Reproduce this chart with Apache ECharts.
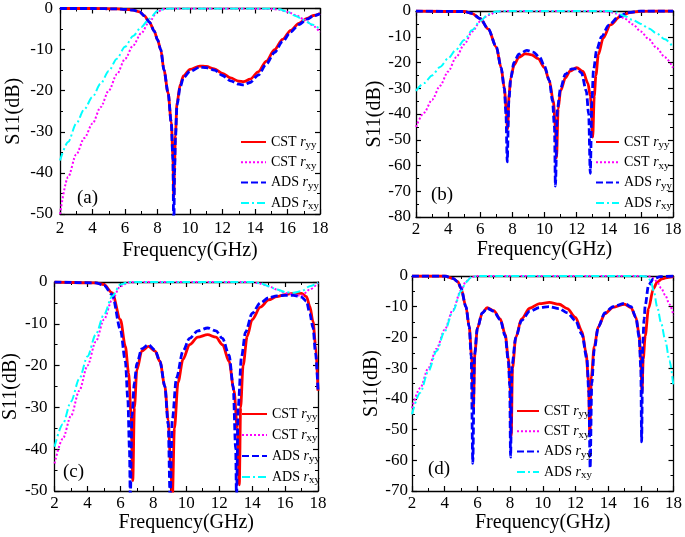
<!DOCTYPE html>
<html><head><meta charset="utf-8">
<script src="https://cdn.jsdelivr.net/npm/echarts@6/dist/echarts.min.js"></script>
<style>html,body{margin:0;padding:0;background:#fff}#c{width:685px;height:537px}</style>
</head><body><div id="c"></div><script>
// ---------- Panel (a) ----------
const aFreqXY = [2,2.5,3,3.5,4,4.5,5,5.5,6,6.5,7,7.5,8,8.5,9,11,13,15,15.5,16,16.5,17,17.5,18];
const aCstXY  = [-50,-41,-35.5,-31.5,-28,-24,-20,-16,-12.3,-9,-6,-3.2,-0.7,-0.05,0,0,0,-0.1,-0.3,-0.8,-1.6,-2.6,-4,-5.8];
const aAdsXY  = [-37,-32.5,-28,-24.5,-21.5,-18.3,-15.2,-12.2,-9.3,-6.7,-4.5,-2.5,-0.6,-0.05,0,0,0,0,-0.2,-0.8,-1.8,-2.8,-3.9,-5];
const aFreqYY = [2,4,5.5,6,6.5,6.9,7.2,7.5,7.8,8,8.2,8.4,8.65,8.85,8.95,9.0,9.05,9.1,9.2,9.4,9.6,10,10.6,11,11.5,12,12.5,13,13.3,13.7,14.2,14.7,15.2,15.7,16.2,16.7,17.2,17.6,18];
const aCstYY  = [0,0,-0.1,-0.2,-0.4,-0.8,-1.8,-3.3,-5.5,-7.6,-10,-15,-20.5,-27.7,-36,-46,-38,-31,-23,-18.5,-16.4,-14.8,-14,-14.1,-14.7,-15.8,-16.9,-17.7,-17.8,-17.2,-15.4,-12.8,-10,-7.5,-5.3,-3.6,-2.4,-1.7,-1.2];
const aAdsYY  = [0,0,-0.1,-0.2,-0.4,-0.8,-1.8,-3.3,-5.5,-7.6,-10,-15,-20.5,-28,-37,-55,-40,-32,-23.5,-19,-16.8,-15.3,-14.3,-14.4,-15,-16.3,-17.6,-18.4,-18.6,-18,-16.2,-13.5,-10.7,-8,-5.7,-3.9,-2.6,-1.8,-1.3];
// ---------- Panel (b) ----------
const bFreqXY = [2,2.5,3,3.5,4,4.5,5,5.5,6,6.5,7,7.5,8,10,12,13,13.5,14,14.5,15,15.5,16,16.5,17,17.5,18];
const bCstXY  = [-45,-39.5,-34.5,-29,-23.5,-18,-13,-8,-4,-1.6,-0.4,0,0,0,0,0,0,-0.3,-1,-3,-5.2,-8,-11,-14.5,-18,-22];
const bAdsXY  = [-31,-28,-25,-21.7,-18.4,-15,-11.3,-7.4,-3.8,-1.3,-0.2,0,0,0,0,0,0,0,-0.6,-2,-3.5,-5,-6.8,-8.8,-11,-14];
const bFreqCst = [2,5,5.5,6,6.5,7,7.3,7.5,7.62,7.7,7.8,7.9,8.1,8.4,8.8,9.2,9.6,10,10.3,10.55,10.68,10.75,10.85,11,11.3,11.6,12,12.4,12.7,12.85,12.95,13.0,13.1,13.2,13.35,13.65,14.1,14.7,15.3,16,17,18];
const bCstYY   = [0,-0.2,-1,-3,-7,-14,-22,-30,-38,-46,-32,-26,-21,-18,-16.6,-17,-18.5,-22,-27,-35,-45,-57,-38,-31,-26,-23.3,-22,-23.5,-28,-33,-40,-49,-33,-25,-17,-10.6,-5.4,-2.2,-0.6,-0.1,0,0];
const bFreqAds = [2,5,5.5,6,6.5,7,7.3,7.5,7.6,7.68,7.78,7.9,8.1,8.4,8.9,9.3,9.7,10,10.3,10.5,10.62,10.68,10.8,11,11.3,11.7,12,12.3,12.6,12.75,12.85,12.95,13.05,13.25,13.55,14,14.6,15.2,16,18];
const bAdsYY   = [0,-0.2,-1,-3,-7,-14,-22,-30,-40,-58.6,-35,-26,-20,-16.8,-15.3,-16,-18,-21.5,-27,-35,-45,-68,-38,-30,-24.5,-22.5,-22.5,-24,-31,-40,-63,-35,-23,-15,-10,-5.5,-2.3,-0.6,0,0];
// ---------- Panel (c) ----------
const cFreqXY = [2,2.5,3,3.5,4,4.5,5,5.5,6,6.5,7,10,14,14.5,15,15.5,16,16.5,17,17.5,18];
const cCstXY  = [-43.4,-37.5,-32,-26,-20,-14.3,-9,-4.2,-1,-0.1,0,0,0,-0.4,-1,-1.8,-2.6,-3,-3.3,-1.8,-0.2];
const cAdsXY  = [-39.4,-34,-28.6,-23.2,-17.8,-12.6,-7.8,-3.4,-0.6,0,0,0,0,-0.3,-1,-1.8,-2.4,-2.6,-2.2,-1,-0.2];
const cFreqCst = [2,4.5,5,5.5,6,6.3,6.5,6.65,6.75,6.85,7.0,7.3,7.7,8.1,8.4,8.7,8.9,9.07,9.15,9.28,9.5,9.8,10.2,10.7,11.3,11.8,12.2,12.6,12.9,13.1,13.22,13.3,13.45,13.7,14,14.5,15,15.5,16,16.5,17,17.3,17.5,17.7,17.85,18];
const cCstYY   = [0,-0.2,-0.6,-2.6,-9,-15.4,-21.8,-32,-47.5,-30,-21,-16.5,-15.4,-16.5,-19,-25,-33,-45,-52,-35,-24,-18.5,-15,-13.2,-12.6,-13.2,-15,-19,-26,-35,-48.5,-30,-20,-13,-9,-6,-4.3,-3.5,-3,-2.7,-2.7,-3.5,-5.8,-9.5,-15,-26];
const cFreqAds = [2,4.5,5,5.5,6,6.3,6.45,6.55,6.6,6.7,6.85,7.0,7.3,7.7,8.1,8.4,8.7,8.9,9.02,9.15,9.4,9.8,10.2,10.7,11.3,11.8,12.2,12.6,12.85,13.0,13.05,13.15,13.35,13.6,14,14.5,15,15.5,16,16.5,17,17.3,17.5,17.7,17.85,18];
const cAdsYY   = [0,-0.2,-0.8,-3,-11.4,-19,-28,-40,-52,-32,-24,-19.5,-16,-15,-16.3,-19,-25,-34,-52,-33,-23,-16.5,-13.5,-11.7,-11,-11.7,-13.5,-17.5,-25,-40,-52,-30,-18,-12,-7.5,-5,-3.8,-3.3,-3.2,-3.2,-3.6,-4.6,-7.5,-11,-17,-26];
// ---------- Panel (d) ----------
const dFreqXY = [2,2.5,3,3.5,4,4.5,5,5.3,5.6,6,10,16,16.4,16.6,16.8,17,17.25,17.5,17.75,18];
const dCstXY  = [-43,-36.5,-30,-23.7,-17.5,-11,-4.6,-1.8,-0.4,0,0,0,0,-0.2,-0.8,-2,-4,-6.3,-9.2,-12.8];
const dAdsXY  = [-45,-38,-31,-24.5,-18,-11.5,-5,-2,-0.5,0,0,0,-0.2,-1.5,-5,-10,-15.5,-21,-27.5,-36];
const dFreqCst = [2,4,4.5,4.8,5,5.3,5.5,5.65,5.75,5.85,6.0,6.3,6.6,7,7.4,7.7,7.9,8.0,8.07,8.15,8.35,8.7,9.2,9.8,10.4,11,11.5,12,12.4,12.65,12.8,12.88,12.97,13.15,13.4,13.8,14.3,15,15.4,15.7,15.9,16.0,16.07,16.15,16.27,16.47,16.77,17.0,17.3,17.7,18];
const dCstYY   = [0,0,-0.8,-1.8,-4,-10,-16.5,-26,-43,-25,-17,-12,-10.3,-11.3,-14,-19,-27,-35,-52,-30,-20,-14,-10.5,-9,-8.6,-9.2,-10.6,-13.5,-18,-25,-34,-52,-33,-23,-16.5,-12.3,-10.2,-9.2,-10.3,-13.5,-19,-27,-38,-27,-19.5,-10.6,-4.1,-2,-0.9,-0.4,-0.2];
const dFreqAds = [2,4,4.5,4.8,5,5.3,5.5,5.62,5.72,5.82,6.0,6.3,6.6,7,7.4,7.7,7.9,7.98,8.03,8.12,8.35,8.7,9.2,9.8,10.4,11,11.5,12,12.4,12.7,12.82,12.9,13.0,13.15,13.4,13.8,14.3,15,15.4,15.7,15.9,16.0,16.05,16.12,16.2,16.27,16.47,16.77,17.2,18];
const dAdsYY   = [0,0,-0.8,-1.8,-4,-10,-16.5,-26,-61,-26,-17,-12,-10.5,-11.5,-14.2,-19.5,-28,-36,-59,-29,-20,-14.5,-11.5,-10.3,-10,-10.6,-12,-14.5,-19,-27,-38,-62.5,-35,-24,-16.5,-12,-10,-8.9,-10,-13.5,-20,-30,-54,-22,-14,-9.6,-3,-0.9,-0.2,0];

const xTicks = [2,4,6,8,10,12,14,16,18];
const seriesNames = ['CST ryy','CST rxy','ADS ryy','ADS rxy'];
const panelLabels = ['(a)','(b)','(c)','(d)'];
const yMins = [-50,-80,-50,-70];

const FONT = '"Liberation Serif","Times New Roman",serif';
const layout = [
  {left:60, top:7, width:260, height:207, yGap:36, xGap:27, xMargin:6, yMargin:7, lx:77, ly:198, lgLeft:240, lgTop:135, lgGap:4.3, lgW:25},
  {left:416, top:11, width:257, height:206, yGap:31, xGap:23, xMargin:4, yMargin:5, lx:431, ly:195, lgLeft:595, lgTop:135, lgGap:4.3, lgW:23},
  {left:51, top:282, width:267, height:209, yGap:33, xGap:18, xMargin:4, yMargin:7, lx:63, ly:472, lgLeft:241, lgTop:407, lgGap:5, lgW:25},
  {left:412, top:276, width:265, height:215, yGap:29, xGap:13, xMargin:4, yMargin:4, lx:428, ly:469, lgLeft:516, lgTop:404, lgGap:4.3, lgW:22}
];
const panels = [
  [[aFreqYY,aCstYY],[aFreqXY,aCstXY],[aFreqYY,aAdsYY],[aFreqXY,aAdsXY]],
  [[bFreqCst,bCstYY],[bFreqXY,bCstXY],[bFreqAds,bAdsYY],[bFreqXY,bAdsXY]],
  [[cFreqCst,cCstYY],[cFreqXY,cCstXY],[cFreqAds,cAdsYY],[cFreqXY,cAdsXY]],
  [[dFreqCst,dCstYY],[dFreqXY,dCstXY],[dFreqAds,dAdsYY],[dFreqXY,dAdsXY]]
];
const styles = [
  {color:'#ff0000', width:2.8, type:'solid'},
  {color:'#ff00ff', width:2, type:[2,2]},
  {color:'#0000ff', width:2.8, type:[7,3]},
  {color:'#00ffff', width:2, type:[8,3,2,3]}
];

const grid=[], xAxis=[], yAxis=[], series=[], legend=[], graphic=[];
const axLine = {show:true, onZero:false, lineStyle:{color:'#000', width:1.3}};
layout.forEach((L, g) => {
  grid.push({left:L.left, top:L.top, width:L.width, height:L.height, containLabel:false});
  const lbl = {color:'#000', fontFamily:FONT, fontSize:17};
  [false,true].forEach(second => {
    xAxis.push({type:'value', gridIndex:g, position: second?'top':'bottom', min:xTicks[0], max:xTicks[xTicks.length-1], interval:2,
      axisLine:axLine, axisTick:{show:true, inside:true, length:5, lineStyle:{color:'#000', width:1.2}},
      minorTick:{show:true, splitNumber:2, length:3, lineStyle:{color:'#000', width:1}},
      splitLine:{show:false}, minorSplitLine:{show:false},
      axisLabel:{show:!second, margin:L.xMargin, ...lbl},
      name: second?'':'Frequency(GHz)', nameLocation:'middle', nameGap:L.xGap,
      nameTextStyle:{color:'#000', fontFamily:FONT, fontSize:20}});
    yAxis.push({type:'value', gridIndex:g, position: second?'right':'left', min:yMins[g], max:0, interval:10,
      axisLine:axLine, axisTick:{show:true, inside:true, length:5, lineStyle:{color:'#000', width:1.2}},
      minorTick:{show:true, splitNumber:2, length:3, lineStyle:{color:'#000', width:1}},
      splitLine:{show:false}, minorSplitLine:{show:false},
      axisLabel:{show:!second, margin:L.yMargin, ...lbl},
      name: second?'':'S11(dB)', nameLocation:'middle', nameGap:L.yGap, nameRotate:90,
      nameTextStyle:{color:'#000', fontFamily:FONT, fontSize:20}});
  });
  panels[g].forEach((p, k) => {
    series.push({type:'line', name:seriesNames[k], xAxisIndex:g*2, yAxisIndex:g*2,
      data:p[0].map((f,i)=>[f,p[1][i]]), symbol:'none', showSymbol:false,
      smooth:0.3, smoothMonotone:'x', clip:true, animation:false,
      lineStyle:{color:styles[k].color, width:styles[k].width, type:styles[k].type, cap:'butt'},
      itemStyle:{color:styles[k].color}, z:2+k});
  });
  legend.push({orient:'vertical', left:L.lgLeft, top:L.lgTop, padding:0, itemWidth:L.lgW, itemHeight:14, itemGap:L.lgGap,
    data:seriesNames, selectedMode:false, z:10,
    itemStyle:{opacity:0, borderWidth:0},
    formatter: n => '{t|' + n.split(' ')[0] + ' }{r|r}{s|' + n.slice(-2) + '}',
    textStyle:{color:'#000', fontFamily:FONT, fontSize:14,
      rich:{t:{fontFamily:FONT, fontSize:14, lineHeight:18, color:'#000'},
            r:{fontFamily:FONT, fontSize:14, fontStyle:'italic', lineHeight:18, color:'#000'},
            s:{fontFamily:FONT, fontSize:11, lineHeight:11, verticalAlign:'bottom', color:'#000'}}}});
  graphic.push({type:'text', x:L.lx, y:L.ly, style:{text:panelLabels[g], font:'19px "Liberation Serif"', fill:'#000', align:'left', verticalAlign:'middle'}});
});

const chart = echarts.init(document.getElementById('c'), null, {renderer:'canvas'});
chart.setOption({animation:false, backgroundColor:'#fff', grid, xAxis, yAxis, series, legend, graphic});
</script></body></html>
